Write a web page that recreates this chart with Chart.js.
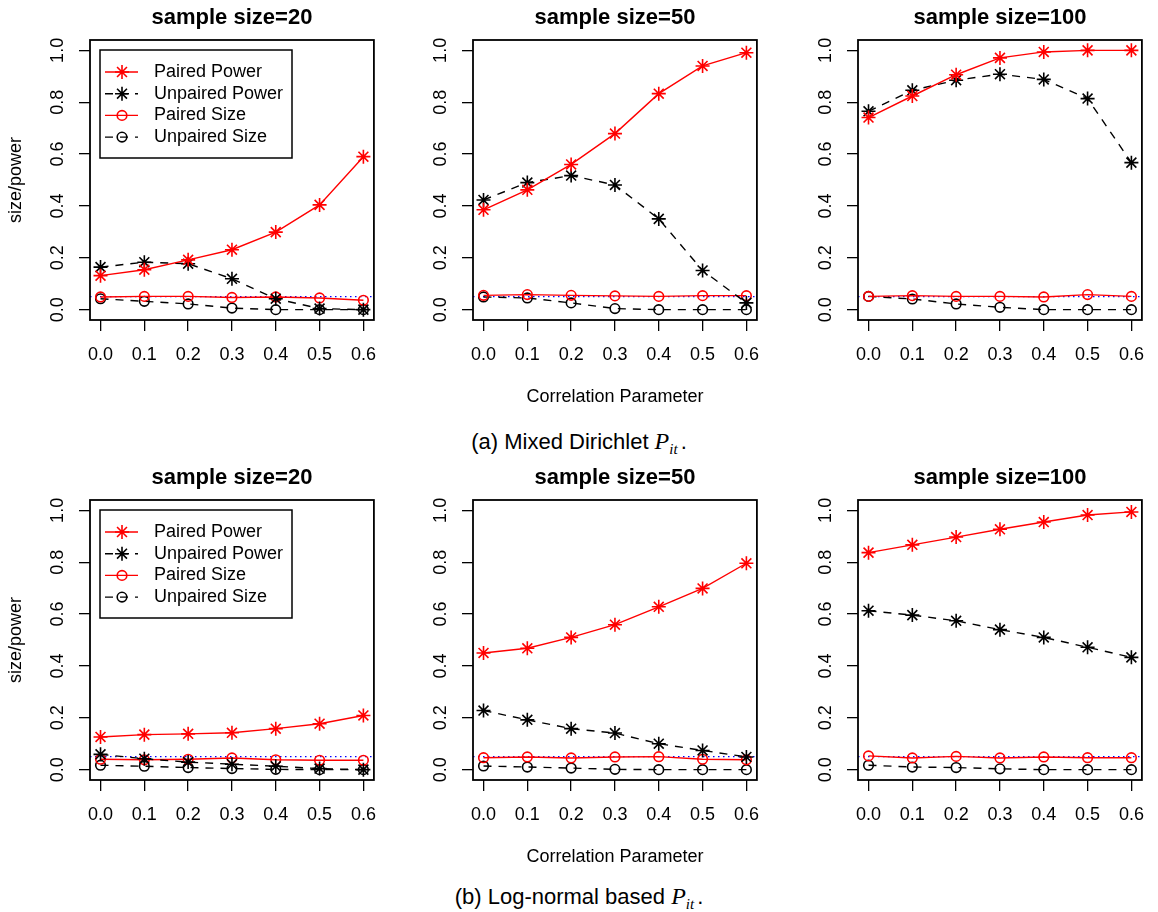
<!DOCTYPE html>
<html>
<head>
<meta charset="utf-8">
<title>Paired vs unpaired size and power</title>
<script src="https://cdn.jsdelivr.net/npm/chart.js@4.4.1/dist/chart.umd.min.js"></script>
<style>
  body { margin: 0; background: #fff; }
  #figure { position: relative; width: 1158px; height: 912px; font-family: "Liberation Sans", Arial, sans-serif; }
  #figure canvas { position: absolute; }
  .caption { position: absolute; left: 0; width: 1158px; text-align: center; font-size: 22px; line-height: 26px; color: #000; }
  .caption i { font-family: "Liberation Serif", "Times New Roman", serif; font-size: 24px; }
  .caption sub { font-size: 15px; vertical-align: baseline; position: relative; top: 0.3em; margin-right: 3px; }
</style>
</head>
<body>
<div id="figure">
  <canvas id="a20" width="390" height="420" style="left:0px;top:0px"></canvas>
  <canvas id="a50" width="390" height="420" style="left:383px;top:0px"></canvas>
  <canvas id="a100" width="390" height="420" style="left:768px;top:0px"></canvas>
  <div class="caption" style="top:428px">(a) Mixed Dirichlet <i>P<sub>it</sub></i>.</div>
  <canvas id="b20" width="390" height="420" style="left:0px;top:460px"></canvas>
  <canvas id="b50" width="390" height="420" style="left:383px;top:460px"></canvas>
  <canvas id="b100" width="390" height="420" style="left:768px;top:460px"></canvas>
  <div class="caption" style="top:883px">(b) Log-normal based <i>P<sub>it</sub></i>.</div>
</div>
<script>
// correlation parameter values (x) and axis ticks
const CORR = [0.0, 0.1, 0.2, 0.3, 0.4, 0.5, 0.6];
const X_TICKS = [0.0, 0.1, 0.2, 0.3, 0.4, 0.5, 0.6];
const Y_TICKS = [0.0, 0.2, 0.4, 0.6, 0.8, 1.0];
const SAMPLE_SIZES = [20, 50, 100];
const ALPHA = 0.05;
const SERIES_NAMES = ['Paired Power', 'Unpaired Power', 'Paired Size', 'Unpaired Size'];

// (a) Mixed Dirichlet
const dirPairedPower20 = [0.131, 0.154, 0.192, 0.231, 0.299, 0.404, 0.590];
const dirUnpairedPower20 = [0.164, 0.183, 0.177, 0.119, 0.042, 0.004, 0.000];
const dirPairedSize20 = [0.049, 0.051, 0.051, 0.047, 0.049, 0.045, 0.036];
const dirUnpairedSize20 = [0.042, 0.032, 0.022, 0.006, 0.000, 0.000, 0.000];

const dirPairedPower50 = [0.385, 0.462, 0.560, 0.679, 0.833, 0.940, 0.991];
const dirUnpairedPower50 = [0.423, 0.490, 0.517, 0.481, 0.350, 0.151, 0.026];
const dirPairedSize50 = [0.055, 0.058, 0.055, 0.053, 0.051, 0.054, 0.054];
const dirUnpairedSize50 = [0.049, 0.045, 0.026, 0.004, 0.000, 0.000, 0.000];

const dirPairedPower100 = [0.741, 0.824, 0.906, 0.971, 0.994, 1.000, 1.000];
const dirUnpairedPower100 = [0.765, 0.846, 0.885, 0.908, 0.888, 0.814, 0.567];
const dirPairedSize100 = [0.051, 0.054, 0.051, 0.051, 0.049, 0.058, 0.051];
const dirUnpairedSize100 = [0.051, 0.041, 0.022, 0.009, 0.000, 0.000, 0.000];

// (b) Log-normal based
const lnPairedPower20 = [0.126, 0.135, 0.138, 0.142, 0.158, 0.177, 0.209];
const lnUnpairedPower20 = [0.059, 0.042, 0.029, 0.021, 0.013, 0.004, 0.000];
const lnPairedSize20 = [0.040, 0.038, 0.040, 0.045, 0.038, 0.036, 0.036];
const lnUnpairedSize20 = [0.017, 0.013, 0.008, 0.004, 0.001, 0.000, 0.000];

const lnPairedPower50 = [0.450, 0.468, 0.510, 0.559, 0.628, 0.699, 0.796];
const lnUnpairedPower50 = [0.228, 0.192, 0.158, 0.141, 0.100, 0.074, 0.049];
const lnPairedSize50 = [0.046, 0.049, 0.045, 0.049, 0.050, 0.040, 0.038];
const lnUnpairedSize50 = [0.014, 0.010, 0.006, 0.001, 0.000, 0.000, 0.000];

const lnPairedPower100 = [0.837, 0.867, 0.897, 0.927, 0.955, 0.982, 0.994];
const lnUnpairedPower100 = [0.613, 0.596, 0.574, 0.540, 0.510, 0.472, 0.433];
const lnPairedSize100 = [0.053, 0.045, 0.051, 0.045, 0.049, 0.046, 0.046];
const lnUnpairedSize100 = [0.017, 0.010, 0.008, 0.003, 0.000, 0.000, 0.000];

const panels = [
  { id: 'a20', col: 0, series: [dirPairedPower20, dirUnpairedPower20, dirPairedSize20, dirUnpairedSize20] },
  { id: 'a50', col: 1, series: [dirPairedPower50, dirUnpairedPower50, dirPairedSize50, dirUnpairedSize50] },
  { id: 'a100', col: 2, series: [dirPairedPower100, dirUnpairedPower100, dirPairedSize100, dirUnpairedSize100] },
  { id: 'b20', col: 0, series: [lnPairedPower20, lnUnpairedPower20, lnPairedSize20, lnUnpairedSize20] },
  { id: 'b50', col: 1, series: [lnPairedPower50, lnUnpairedPower50, lnPairedSize50, lnUnpairedSize50] },
  { id: 'b100', col: 2, series: [lnPairedPower100, lnUnpairedPower100, lnPairedSize100, lnUnpairedSize100] }
];

// line / symbol style per series, R look (type="b", pch 8 and 1)
const STYLES = [
  { color: 'red', dash: [], point: 'star', radius: 7 },
  { color: 'black', dash: [8, 7], point: 'star', radius: 7 },
  { color: 'red', dash: [], point: 'circle', radius: 4.8 },
  { color: 'black', dash: [8, 7], point: 'circle', radius: 4.8 }
];
const PLOT_WIDTHS = [286, 287, 286];

Chart.defaults.font.family = '"Liberation Sans", Arial, Helvetica, sans-serif';
Chart.defaults.color = '#000';

function drawMarker(ctx, style, x, y) {
  ctx.beginPath();
  if (style.point === 'star') {
    const r = style.radius, d = r * Math.SQRT1_2;
    ctx.moveTo(x - r, y); ctx.lineTo(x + r, y);
    ctx.moveTo(x, y - r); ctx.lineTo(x, y + r);
    ctx.moveTo(x - d, y - d); ctx.lineTo(x + d, y + d);
    ctx.moveTo(x - d, y + d); ctx.lineTo(x + d, y - d);
  } else {
    ctx.arc(x, y, style.radius, 0, Math.PI * 2);
  }
  ctx.stroke();
}

// box round the plot region, alpha line and rotated y labels
const rFrame = {
  id: 'rFrame',
  beforeDatasetsDraw(chart) {
    const { ctx, chartArea: a } = chart;
    const y = chart.scales.y.getPixelForValue(ALPHA);
    ctx.save();
    ctx.strokeStyle = 'blue';
    ctx.lineWidth = 1.3;
    ctx.setLineDash([1.5, 3.5]);
    ctx.beginPath();
    ctx.moveTo(a.left, y);
    ctx.lineTo(a.right, y);
    ctx.stroke();
    ctx.restore();
  },
  afterDraw(chart) {
    const { ctx, chartArea: a } = chart;
    ctx.save();
    ctx.strokeStyle = '#000';
    ctx.lineWidth = 1.8;
    ctx.strokeRect(a.left, a.top, a.right - a.left, a.bottom - a.top);

    ctx.fillStyle = '#000';
    ctx.font = '18px "Liberation Sans", Arial, sans-serif';
    ctx.textAlign = 'center';
    ctx.textBaseline = 'alphabetic';
    Y_TICKS.forEach(v => {
      const y = chart.scales.y.getPixelForValue(v);
      ctx.save();
      ctx.translate(a.left - 27, y);
      ctx.rotate(-Math.PI / 2);
      ctx.fillText(v.toFixed(1), 0, 0);
      ctx.restore();
    });
    ctx.restore();
  }
};

// R style legend box in the top left corner
const rLegend = {
  id: 'rLegend',
  afterDraw(chart, args, opts) {
    if (!opts.show) return;
    const { ctx, chartArea: a } = chart;
    const left = a.left + 10, top = a.top + 10;
    ctx.save();
    ctx.fillStyle = '#fff';
    ctx.fillRect(left, top, 192, 108);
    ctx.strokeStyle = '#000';
    ctx.lineWidth = 1.5;
    ctx.strokeRect(left, top, 192, 108);
    ctx.font = '18px "Liberation Sans", Arial, sans-serif';
    ctx.textBaseline = 'middle';
    chart.data.datasets.forEach((ds, i) => {
      const st = STYLES[i];
      const y = top + 22 + i * 21.7;
      ctx.strokeStyle = st.color;
      ctx.lineWidth = 1.4;
      ctx.setLineDash(st.dash);
      ctx.beginPath();
      ctx.moveTo(left + 5, y);
      ctx.lineTo(left + 38, y);
      ctx.stroke();
      ctx.setLineDash([]);
      ctx.lineWidth = 1.6;
      drawMarker(ctx, st, left + 22, y);
      ctx.fillStyle = '#000';
      ctx.fillText(ds.label, left + 54, y);
    });
    ctx.restore();
  }
};

panels.forEach(p => {
  const datasets = p.series.map((values, k) => {
    const st = STYLES[k];
    return {
      label: SERIES_NAMES[k],
      data: CORR.map((c, i) => ({ x: c, y: values[i] })),
      borderColor: st.color,
      backgroundColor: 'transparent',
      borderWidth: 1.4,
      borderDash: st.dash,
      pointStyle: st.point,
      pointRadius: st.radius,
      pointBorderWidth: 1.6,
      pointBorderColor: st.color,
      pointBackgroundColor: 'transparent',
      tension: 0,
      fill: false
    };
  });

  const tickGrid = { drawOnChartArea: false, drawTicks: true, tickLength: 11, color: '#000', lineWidth: 1.3 };

  new Chart(document.getElementById(p.id), {
    type: 'line',
    data: { datasets },
    options: {
      responsive: false,
      animation: false,
      events: [],
      devicePixelRatio: 1,
      layout: { padding: { left: 0, top: 0, right: 390 - 90 - PLOT_WIDTHS[p.col], bottom: 0 } },
      scales: {
        x: {
          type: 'linear',
          min: -0.024,
          max: 0.624,
          afterBuildTicks: s => { s.ticks = X_TICKS.map(v => ({ value: v })); },
          afterFit: s => { s.height = 100; },
          grid: tickGrid,
          border: { display: false },
          ticks: { font: { size: 18 }, color: '#000', padding: 13.5, maxRotation: 0, autoSkip: false, callback: v => v.toFixed(1) },
          title: { display: p.col === 1, text: 'Correlation Parameter', font: { size: 18 }, color: '#000', padding: { top: 0, bottom: 12 } }
        },
        y: {
          type: 'linear',
          min: -0.04,
          max: 1.04,
          afterBuildTicks: s => { s.ticks = Y_TICKS.map(v => ({ value: v })); },
          afterFit: s => { s.width = 90; },
          grid: tickGrid,
          border: { display: false },
          ticks: { display: false },
          title: { display: p.col === 0, text: 'size/power', font: { size: 18 }, color: '#000', padding: { top: 5, bottom: 0 } }
        }
      },
      plugins: {
        legend: { display: false },
        tooltip: { enabled: false },
        title: {
          display: true,
          text: 'sample size=' + SAMPLE_SIZES[p.col],
          font: { size: 22, weight: 'bold' },
          color: '#000',
          fullSize: false,
          padding: { top: 5, bottom: 8.6 }
        },
        rLegend: { show: p.col === 0 }
      }
    },
    plugins: [rFrame, rLegend]
  });
});
</script>
</body>
</html>
